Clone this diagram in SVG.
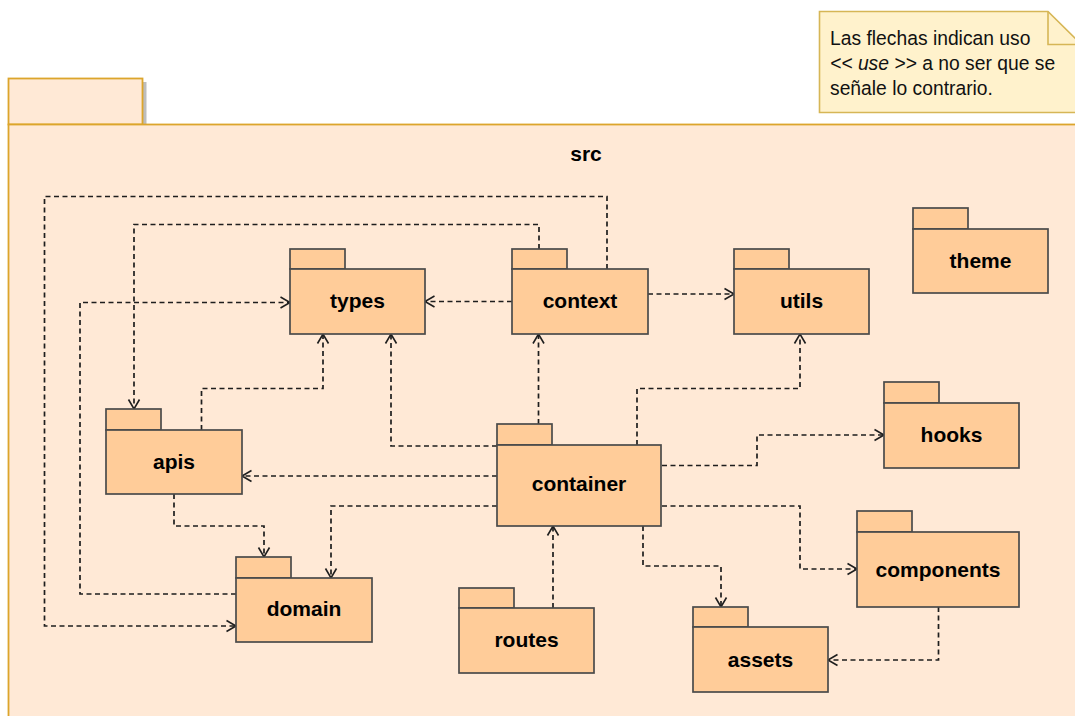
<svg xmlns="http://www.w3.org/2000/svg" width="1075" height="716" viewBox="0 0 1075 716">
  <style>
    .pkg rect { fill: #ffcc99; stroke: #4a4a4a; stroke-width: 1.7; }
    .pkg text { font-family: "Liberation Sans", Arial, sans-serif; font-weight: bold; font-size: 21px; fill: #000; text-anchor: middle; }
    .dep { fill: none; stroke: #1e1e1e; stroke-width: 1.7; stroke-dasharray: 5 3.5; marker-end: url(#open); }
    .note-text { font-family: "Liberation Sans", Arial, sans-serif; font-size: 19.3px; fill: #111; }
  </style>
  <defs>
    <marker id="open" viewBox="-12 -8 14 16" refX="0" refY="0" markerWidth="14" markerHeight="16" markerUnits="userSpaceOnUse" orient="auto">
      <path d="M-9.5,-5.5 L0,0 L-9.5,5.5" fill="none" stroke="#1e1e1e" stroke-width="1.6" stroke-dasharray="none"/>
    </marker>
  </defs>

  <rect width="1075" height="716" fill="#ffffff"/>

  <!-- outer src package -->
  <g id="src">
    <rect x="143" y="82" width="3.5" height="42" fill="#bdbdbd"/>
    <rect x="8.5" y="78.5" width="134" height="46" fill="#ffe9d6" stroke="#dca52c" stroke-width="1.8"/>
    <rect x="8.5" y="124.5" width="1100" height="620" fill="#ffe9d6" stroke="#dca52c" stroke-width="1.8"/>
    <text x="586" y="161" font-family="Liberation Sans, Arial, sans-serif" font-weight="bold" font-size="21" text-anchor="middle">src</text>
  </g>

  <!-- note -->
  <g id="note">
    <path d="M819.5,11.5 H1048 L1082,45 V112.5 H819.5 Z" fill="#fff2cc" stroke="#d6b656" stroke-width="1.6"/>
    <path d="M1048,11.5 V44.5 H1082" fill="none" stroke="#d6b656" stroke-width="1.6"/>
    <text class="note-text" x="830" y="44.5">Las flechas indican uso</text>
    <text class="note-text" x="830" y="69.5"><tspan font-style="italic">&lt;&lt; use &gt;&gt;</tspan> a no ser que se</text>
    <text class="note-text" x="830" y="94.5">señale lo contrario.</text>
  </g>

  <!-- dependencies -->
  <g id="connectors">
    <path class="dep" d="M512,301.5 H425"/>
    <path class="dep" d="M648,294 H734"/>
    <path class="dep" d="M539,249 V224.5 H134 V409"/>
    <path class="dep" d="M607,269 V196.5 H44.5 V626 H236"/>
    <path class="dep" d="M236,594 H80 V302.5 H290"/>
    <path class="dep" d="M201.5,430 V388.5 H323 V334"/>
    <path class="dep" d="M538.5,424 V334"/>
    <path class="dep" d="M497,446 H391 V334"/>
    <path class="dep" d="M497,476 H242"/>
    <path class="dep" d="M497,506 H331 V578"/>
    <path class="dep" d="M174,494 V526 H264 V557"/>
    <path class="dep" d="M637,445 V388.5 H800 V334"/>
    <path class="dep" d="M662,465.5 H757 V435 H884"/>
    <path class="dep" d="M662,506 H800 V569 H857"/>
    <path class="dep" d="M643,526 V566 H721 V607"/>
    <path class="dep" d="M938.5,607 V660 H828"/>
    <path class="dep" d="M553,608 V526"/>
  </g>

  <!-- packages -->
  <g id="types" class="pkg">
    <rect x="290" y="249" width="55" height="20"/>
    <rect x="290" y="269" width="135" height="65"/>
    <text x="357.5" y="308">types</text>
  </g>
  <g id="context" class="pkg">
    <rect x="512" y="249" width="55" height="20"/>
    <rect x="512" y="269" width="136" height="65"/>
    <text x="580" y="308">context</text>
  </g>
  <g id="utils" class="pkg">
    <rect x="734" y="249" width="55" height="20"/>
    <rect x="734" y="269" width="135" height="65"/>
    <text x="801.5" y="308">utils</text>
  </g>
  <g id="theme" class="pkg">
    <rect x="913" y="208" width="55" height="21"/>
    <rect x="913" y="229" width="135" height="64"/>
    <text x="980.5" y="267.5">theme</text>
  </g>
  <g id="apis" class="pkg">
    <rect x="106" y="409" width="55" height="21"/>
    <rect x="106" y="430" width="136" height="64"/>
    <text x="174" y="468.5">apis</text>
  </g>
  <g id="container" class="pkg">
    <rect x="497" y="424" width="55" height="21"/>
    <rect x="497" y="445" width="164" height="81"/>
    <text x="579" y="491">container</text>
  </g>
  <g id="hooks" class="pkg">
    <rect x="884" y="382" width="55" height="21"/>
    <rect x="884" y="403" width="135" height="65"/>
    <text x="951.5" y="441.5">hooks</text>
  </g>
  <g id="domain" class="pkg">
    <rect x="236" y="557" width="55" height="21"/>
    <rect x="236" y="578" width="136" height="64"/>
    <text x="304" y="616">domain</text>
  </g>
  <g id="routes" class="pkg">
    <rect x="459" y="588" width="55" height="20"/>
    <rect x="459" y="608" width="135" height="65"/>
    <text x="526.5" y="647">routes</text>
  </g>
  <g id="components" class="pkg">
    <rect x="857" y="511" width="55" height="21"/>
    <rect x="857" y="532" width="162" height="75"/>
    <text x="938" y="576.5">components</text>
  </g>
  <g id="assets" class="pkg">
    <rect x="693" y="607" width="55" height="20"/>
    <rect x="693" y="627" width="135" height="65"/>
    <text x="760.5" y="667">assets</text>
  </g>
</svg>
